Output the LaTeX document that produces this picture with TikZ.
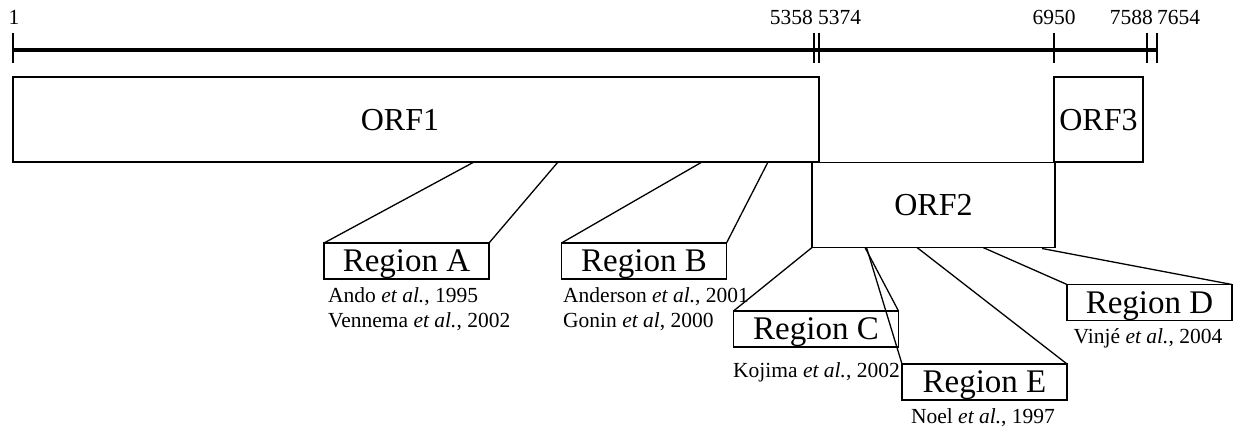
\documentclass[tikz,border=0pt]{standalone}
\usepackage{fontspec}
\setmainfont{Liberation Serif}
\begin{document}
\begin{tikzpicture}[x=1pt,y=-1pt,
  box/.style={draw, line width=1.3pt, inner sep=0pt, outer sep=0pt},
  regbox/.style={box, minimum width=165pt, minimum height=36pt, text depth=0pt, font=\fontsize{33}{36}\selectfont},
  big/.style={inner sep=0pt, text depth=0pt, font=\fontsize{32}{36}\selectfont},
  cite/.style={inner sep=0pt, font=\fontsize{21.5}{24}\selectfont},
  num/.style={inner sep=0pt, anchor=base, font=\fontsize{21.5}{24}\selectfont},
  tick/.style={line width=1.4pt},
  conn/.style={line width=1.3pt}]
\useasboundingbox (0,0) rectangle (1238,430);
% scale bar
\coordinate (s0) at (13,50);
\coordinate (s1) at (1157,50);
\draw[line width=4pt] (s0) -- (s1);
\foreach \n/\x in {t1/13,t2/814,t3/819,t4/1054,t5/1147,t6/1157}{
  \coordinate (\n a) at (\x,33);
  \coordinate (\n b) at (\x,63);
  \draw[tick] (\n a) -- (\n b);
}
\node[num] (n1) at (14,25) {1};
\node[num, anchor=base east] (n2) at (813,25) {5358};
\node[num, anchor=base west] (n3) at (818,25) {5374};
\node[num] (n4) at (1054,25) {6950};
\node[num, anchor=base east] (n5) at (1153,25) {7588};
\node[num, anchor=base west] (n6) at (1157,25) {7654};
% ORF boxes
\node[box, minimum width=806pt, minimum height=85pt] (orf1) at (416,119.5) {};
\node[big] (orf1t) at (400,120) {ORF1};
\node[box, minimum width=243pt, minimum height=85pt, text depth=0pt, font=\fontsize{32}{36}\selectfont] (orf2) at (933.5,205) {ORF2};
\node[box, minimum width=89pt, minimum height=85pt, text depth=0pt, font=\fontsize{32}{36}\selectfont] (orf3) at (1098.5,119.5) {ORF3};
% region boxes
\node[regbox] (regA) at (406.5,261) {Region A};
\node[regbox] (regB) at (644,261) {Region B};
\node[regbox] (regC) at (816,329) {Region C};
\node[regbox] (regE) at (984.5,382) {Region E};
\node[regbox] (regD) at (1149.5,302.5) {Region D};
% anchor points on ORF edges
\coordinate (a1) at (474,162);
\coordinate (a2) at (558,162);
\coordinate (b1) at (702,162);
\coordinate (b2) at (768,162);
\coordinate (c2) at (865,247.5);
\coordinate (e1) at (866.5,247.5);
\coordinate (e2) at (917,247.5);
\coordinate (d1) at (983,247.5);
\coordinate (d2) at (1042,248.5);
\draw[conn] (a1) -- (regA.north west);
\draw[conn] (a2) -- (regA.north east);
\draw[conn] (b1) -- (regB.north west);
\draw[conn] (b2) -- (regB.north east);
\draw[conn] (orf2.south west) -- (regC.north west);
\draw[conn] (c2) -- (regC.north east);
\draw[conn] (e1) -- (regE.north west);
\draw[conn] (e2) -- (regE.north east);
\draw[conn] (d1) -- (regD.north west);
\draw[conn] (d2) -- (regD.north east);
% citations
\node[cite, anchor=base west] (ca1) at (328,302) {Ando \textit{et al.}, 1995};
\node[cite, anchor=base west] (ca2) at (328,327) {Vennema \textit{et al.}, 2002};
\node[cite, anchor=base west] (cb1) at (563,302) {Anderson \textit{et al.}, 2001};
\node[cite, anchor=base west] (cb2) at (563,327) {Gonin \textit{et al}, 2000};
\node[cite, anchor=base west] (cc1) at (733,377) {Kojima \textit{et al.}, 2002};
\node[cite, anchor=base] (ce1) at (983,423) {Noel \textit{et al.}, 1997};
\node[cite, anchor=base] (cd1) at (1148,343) {Vinjé \textit{et al.}, 2004};
\end{tikzpicture}
\end{document}
